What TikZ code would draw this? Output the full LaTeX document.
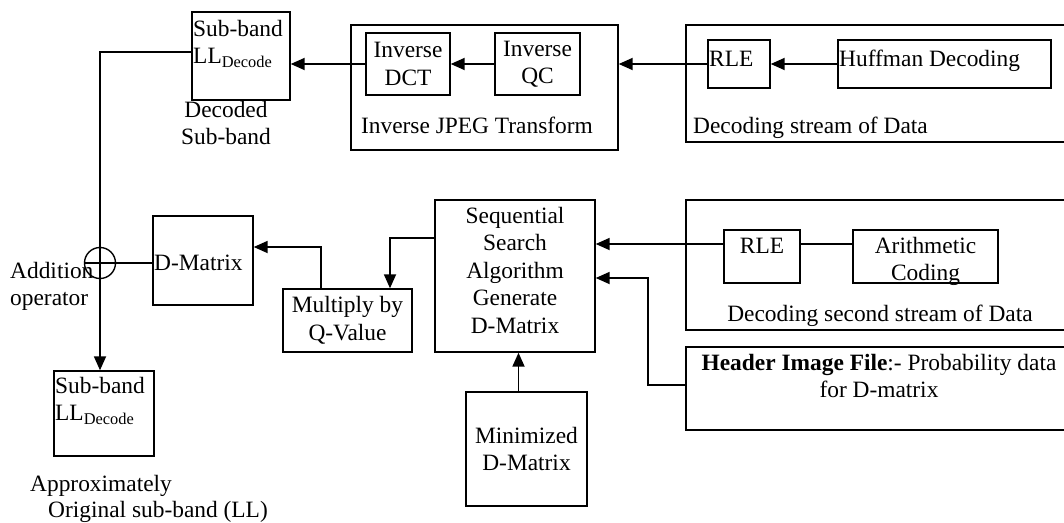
\documentclass[tikz,border=0pt]{standalone}
\usepackage{fontspec}
\setmainfont{Liberation Serif}
\usetikzlibrary{arrows.meta}
\begin{document}
\begin{tikzpicture}[x=1pt,y=-1pt, font=\fontsize{23.4pt}{27.5pt}\selectfont,
  box/.style={draw, line width=1.4pt, inner sep=0pt},
  txt/.style={inner sep=0pt},
  conn/.style={line width=1.8pt},
  arr/.style={conn, -{Triangle[length=14pt,width=12pt]}}]
\useasboundingbox (0,0) rectangle (1064,522);
\clip (0,0) rectangle (1064,522);
% ---------- top row
\node[box, minimum width=98pt, minimum height=88pt] (sb1) at (241,56) {};
\node[txt, anchor=north west, align=left] (sb1t) at (193,20) {Sub-band\\LL\textsubscript{Decode}};
\node[txt, anchor=north, align=center] (dect) at (226,101) {Decoded\\Sub-band};
\node[box, minimum width=267pt, minimum height=125pt] (jpeg) at (484.5,87.5) {};
\node[box, minimum width=84pt, minimum height=62pt, align=center] (dct) at (408,64) {Inverse\\DCT};
\node[box, minimum width=85pt, minimum height=62pt, align=center] (qc) at (537.5,64) {Inverse\\QC};
\node[txt, anchor=base] (jpegt) at (477,133) {Inverse JPEG Transform};
\node[box, minimum width=394pt, minimum height=117pt] (ds1) at (883,83.5) {};
\node[box, minimum width=62pt, minimum height=48pt] (rle1) at (739,64) {};
\node[txt, anchor=base west] (rle1t) at (709,66) {RLE};
\node[box, minimum width=213pt, minimum height=48pt] (huff) at (944.5,64) {};
\node[txt, anchor=base west] (hufft) at (839,66) {Huffman Decoding};
\node[txt, anchor=base west] (ds1t) at (693,133) {Decoding stream of Data};
% ---------- middle
\node[circle, draw, line width=1.4pt, minimum size=31pt, inner sep=0pt] (add) at (100,263) {};
\node[txt, anchor=north west, align=left] (addt) at (10,262) {Addition\\operator};
\node[box, minimum width=100pt, minimum height=89pt] (dm) at (203,260.5) {};
\node[txt, anchor=base west] (dmt) at (154,270) {D-Matrix};
\node[box, minimum width=129pt, minimum height=63pt, align=center] (mul) at (347.5,320.5) {Multiply by\\Q-Value};
\node[box, minimum width=160pt, minimum height=152pt] (seq) at (515,276) {};
\node[txt, anchor=north, align=center] (seqt) at (515,207) {Sequential\\Search\\Algorithm\\Generate\\D-Matrix};
\node[box, minimum width=394pt, minimum height=130pt] (ds2) at (883,265) {};
\node[box, minimum width=76pt, minimum height=53pt] (rle2) at (762,256.5) {};
\node[txt, anchor=base] (rle2t) at (762,253) {RLE};
\node[box, minimum width=145pt, minimum height=53pt] (arith) at (925.5,256.5) {};
\node[txt, anchor=north, align=center] (aritht) at (925.5,237) {Arithmetic\\Coding};
\node[txt, anchor=base] (ds2t) at (880,321) {Decoding second stream of Data};
\node[box, minimum width=394pt, minimum height=83pt] (hdr) at (883,388.5) {};
\node[txt, anchor=north, align=center] (hdrt) at (879,354) {\textbf{Header Image File}:- Probability data\\for D-matrix};
\node[box, minimum width=121pt, minimum height=114pt, align=center] (mini) at (526.5,449) {Minimized\\D-Matrix};
% ---------- bottom left
\node[box, minimum width=100pt, minimum height=85pt] (sb2) at (104,413.5) {};
\node[txt, anchor=north west, align=left] (sb2t) at (55,377) {Sub-band\\LL\textsubscript{Decode}};
\node[txt, anchor=north west, align=left, font=\fontsize{23.4pt}{26.5pt}\selectfont] (apt) at (30,475) {Approximately\\\hspace*{18pt}Original sub-band (LL)};
% ---------- connectors
\draw[arr] (dct.west) -- (dct.west -| sb1.east);
\draw[arr] (qc.west) -- (dct.east);
\draw[arr] (rle1.west) -- (rle1.west -| jpeg.east);
\draw[arr] (huff.west) -- (rle1.east);
\draw[arr] ([yshift=4pt]sb1.west) -| (add.center) -- (add.center |- sb2.north);
\draw[conn] (add.west) -- (add.west -| dm.west);
\draw[arr] ([xshift=-26.5pt]mul.north) |- ([yshift=13.5pt]dm.east);
\draw[arr] ([yshift=38pt]seq.west) -| ([xshift=42.5pt]mul.north);
\draw[arr] ([yshift=12.5pt]rle2.west) -- ([yshift=12.5pt]rle2.west -| seq.east);
\draw[conn] ([yshift=12.5pt]rle2.east) -- ([yshift=12.5pt]rle2.east -| arith.west);
\coordinate (hb) at (648,385);
\draw[arr] (hdr.west |- hb) -- (hb) |- ([yshift=-2pt]seq.east);
\draw[arr] ([xshift=-8pt]mini.north) -- ([xshift=-8pt]mini.north |- seq.south);
\end{tikzpicture}
\end{document}
